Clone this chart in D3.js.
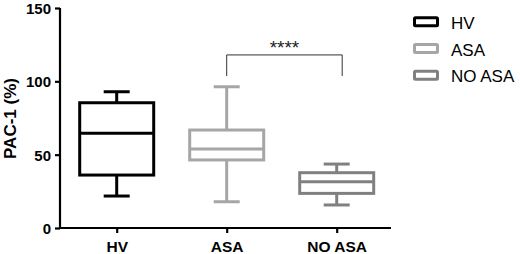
<!DOCTYPE html>
<html><head><meta charset="utf-8">
<script src="https://cdn.jsdelivr.net/npm/d3@7"></script>
<style>body{margin:0;background:#fff}svg{display:block}</style>
</head><body>
<svg id="c" width="520" height="254"></svg>
<script>
const categories = ["HV", "ASA", "NO ASA"];
const whiskerLow = [21.8, 17.9, 15.7];
const q1 = [36.1, 46.4, 23.6];
const median = [64.6, 53.9, 31.6];
const q3 = [85.4, 66.8, 37.7];
const whiskerHigh = [92.9, 96.3, 43.6];
const colors = ["#000000", "#a6a6a6", "#808080"];
const yTicks = [0, 50, 100, 150];
const sigLabel = "****";
const sigPair = ["ASA", "NO ASA"];
const sigLevel = 118;
const sigFoot = 103.6;

const svg = d3.select("#c");
const y = d3.scaleLinear().domain([0, 150]).range([228, 8]);
const x = d3.scalePoint().domain(categories).range([116.7, 336.7]);
const font = "Liberation Sans, Arial, sans-serif";

// axes
const yAx = svg.append("g").attr("transform", "translate(60,0)")
  .call(d3.axisLeft(y).tickValues(yTicks).tickSize(5).tickPadding(4));
yAx.select(".domain").attr("stroke-width", 2.2).attr("d", "M0,8V228");
yAx.selectAll(".tick line").attr("stroke-width", 2.2);
yAx.selectAll("text").attr("font-family", font).attr("font-weight", "bold").attr("font-size", 15).attr("fill", "#000").attr("dy", "0.36em");

const xAx = svg.append("g").attr("transform", "translate(0,228)")
  .call(d3.axisBottom(x).tickSize(5).tickPadding(8));
xAx.select(".domain").attr("stroke-width", 2.2).attr("d", "M59,0H391");
xAx.selectAll(".tick line").attr("stroke-width", 2.2);
xAx.selectAll("text").attr("font-family", font).attr("font-weight", "bold").attr("font-size", 15.5).attr("fill", "#000");

svg.append("text").attr("transform", "translate(16,118.5) rotate(-90)")
  .attr("text-anchor", "middle").attr("font-family", font).attr("font-weight", "bold")
  .attr("font-size", 17).text("PAC-1 (%)");

// boxes
const bw = 74, cw = 26;
categories.forEach((c, i) => {
  const g = svg.append("g").attr("stroke", colors[i]).attr("stroke-width", 3).attr("fill", "none");
  const cx = x(c);
  g.append("line").attr("x1", cx).attr("x2", cx).attr("y1", y(whiskerHigh[i])).attr("y2", y(q3[i]));
  g.append("line").attr("x1", cx).attr("x2", cx).attr("y1", y(q1[i])).attr("y2", y(whiskerLow[i]));
  g.append("line").attr("x1", cx - cw / 2).attr("x2", cx + cw / 2).attr("y1", y(whiskerHigh[i])).attr("y2", y(whiskerHigh[i]));
  g.append("line").attr("x1", cx - cw / 2).attr("x2", cx + cw / 2).attr("y1", y(whiskerLow[i])).attr("y2", y(whiskerLow[i]));
  g.append("rect").attr("x", cx - bw / 2).attr("width", bw).attr("y", y(q3[i])).attr("height", y(q1[i]) - y(q3[i])).attr("fill", "#fff");
  g.append("line").attr("x1", cx - bw / 2).attr("x2", cx + bw / 2).attr("y1", y(median[i])).attr("y2", y(median[i]));
});

// significance bracket
const bx1 = x(sigPair[0]), bx2 = x(sigPair[1]) + 5.5;
svg.append("path").attr("fill", "none").attr("stroke", "#333").attr("stroke-width", 1)
  .attr("d", `M${bx1},${y(sigFoot)}V${y(sigLevel)}H${bx2}V${y(sigFoot)}`);
svg.append("text").attr("x", (bx1 + bx2) / 2).attr("y", y(sigLevel) - 1)
  .attr("text-anchor", "middle").attr("font-family", font).attr("font-size", 19).attr("fill", "#222").text(sigLabel);

// legend
const leg = svg.append("g");
categories.forEach((c, i) => {
  const ly = 21.7 + i * 26.8;
  leg.append("rect").attr("x", 414.5).attr("y", ly - 4).attr("width", 23).attr("height", 8).attr("rx", 1)
    .attr("fill", "#fff").attr("stroke", colors[i]).attr("stroke-width", 3);
  leg.append("text").attr("x", 451).attr("y", ly + 1).attr("dy", "0.36em").attr("font-family", font)
    .attr("font-size", 17).attr("fill", "#000").text(c);
});
</script>
</body></html>
